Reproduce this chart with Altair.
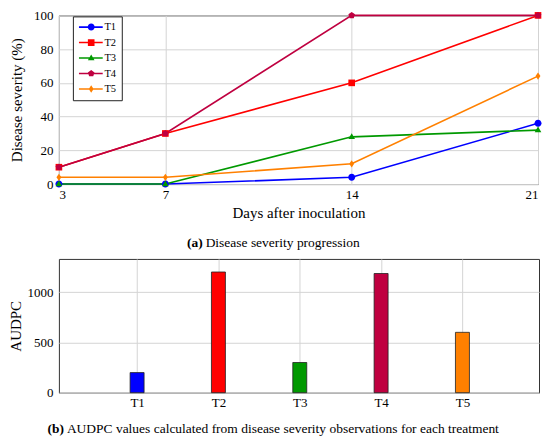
import altair as alt
import pandas as pd

# ---- data ----
days = [3, 7, 14, 21]
series_names = ["T1", "T2", "T3", "T4", "T5"]
sev_t1 = [0, 0, 4, 36]
sev_t2 = [10, 30, 60, 100]
sev_t3 = [0, 0, 28, 32]
sev_t4 = [10, 30, 100, 100]
sev_t5 = [4, 4, 12, 64]
audpc_values = [200, 1200, 300, 1185, 600]
y_ticks_top = [0, 20, 40, 60, 80, 100]
y_ticks_bottom = [0, 500, 1000]

colors = ["#0000ff", "#ff0000", "#009900", "#bf0040", "#ff8000"]

marker_paths = [
    "M1,0A1,1,0,1,1,-1,0A1,1,0,1,1,1,0Z",
    "M-0.95,-0.95H0.95V0.95H-0.95Z",
    "M0,-1.05L0.95,0.65H-0.95Z",
    "M0,-1L0.951,-0.309L0.588,0.809L-0.588,0.809L-0.951,-0.309Z",
    "M0,-1.05L0.7,0L0,1.05L-0.7,0Z",
]
legend_paths = ["M-3.5,-0.22H3.3V0.22H-3.5Z" + p for p in marker_paths]

sev = {"T1": sev_t1, "T2": sev_t2, "T3": sev_t3, "T4": sev_t4, "T5": sev_t5}
rows = []
for s in series_names:
    for d, v in zip(days, sev[s]):
        rows.append({"day": d, "series": s, "value": v})
df_sev = pd.DataFrame(rows)

df_audpc = pd.DataFrame({
    "idx": list(range(1, len(series_names) + 1)),
    "treatment": series_names,
    "audpc": audpc_values,
})

FONT = "Liberation Serif"
GRID = "#d4d4d4"
CAP = 13.5

# ---- top panel ----
W1, H1 = 480, 169

x_top = alt.X(
    "day:Q",
    scale=alt.Scale(domain=[3, 21], nice=False, zero=False),
    axis=alt.Axis(values=days, title="Days after inoculation", grid=True,
                  ticks=False, domain=False, labelPadding=4, titlePadding=4),
)
y_top = alt.Y(
    "value:Q",
    scale=alt.Scale(domain=[0, 100], nice=False),
    axis=alt.Axis(values=y_ticks_top, title="Disease severity (%)", grid=True,
                  ticks=False, domain=False, labelPadding=6, titlePadding=9),
)
color_scale = alt.Scale(domain=series_names, range=colors)

base = alt.Chart(df_sev).encode(x=x_top, y=y_top)

lines = base.mark_line(strokeWidth=1.6).encode(
    color=alt.Color("series:N", scale=color_scale, legend=None)
)
points = base.mark_point(filled=True, size=49, opacity=1).encode(
    color=alt.Color("series:N", scale=color_scale, legend=None),
    shape=alt.Shape("series:N", scale=alt.Scale(domain=series_names, range=marker_paths), legend=None),
)

def leg():
    return alt.Legend(title=None, orient="none", legendX=14, legendY=1,
                      padding=5.5, symbolOffset=7.6, symbolSize=49,
                      labelOffset=8, rowPadding=4.5,
                      labelFont=FONT, labelFontSize=10.5, labelColor="black",
                      strokeColor="#222222", fillColor="white",
                      symbolOpacity=1, symbolStrokeWidth=0)

legend_layer = base.mark_point(filled=True, size=49, opacity=1).encode(
    color=alt.Color("series:N", scale=color_scale, legend=leg()),
    shape=alt.Shape("series:N", scale=alt.Scale(domain=series_names, range=legend_paths),
                    legend=leg()),
).transform_filter("datum.day < 0")

cap_a = pd.DataFrame({"bold": ["(a)"], "rest": ["Disease severity progression"]})
cap_a_bold = alt.Chart(cap_a).mark_text(font=FONT, fontSize=CAP, fontWeight="bold",
                                         align="right", baseline="middle", color="black").encode(
    text="bold:N", x=alt.value(144), y=alt.value(228))
cap_a_rest = alt.Chart(cap_a).mark_text(font=FONT, fontSize=CAP, align="left",
                                         baseline="middle", color="black").encode(
    text="rest:N", x=alt.value(147), y=alt.value(228))

top = alt.layer(lines, points, legend_layer, cap_a_bold, cap_a_rest).resolve_scale(
    color="independent", shape="independent"
).properties(width=W1, height=H1)

# ---- bottom panel ----
W2, H2 = 481, 134
label_expr = "[" + ",".join("'" + s + "'" for s in series_names) + "][datum.value - 1]"

bars = alt.Chart(df_audpc).mark_bar(size=14, stroke="#222222", strokeWidth=0.8).encode(
    x=alt.X("idx:Q", scale=alt.Scale(domain=[0.1, 5.88], nice=False, zero=False),
            axis=alt.Axis(values=list(range(1, len(series_names) + 1)), labelExpr=label_expr,
                          title=None, grid=True, ticks=False, domain=False, labelPadding=4)),
    y=alt.Y("audpc:Q", scale=alt.Scale(domain=[0, 1330], nice=False),
            axis=alt.Axis(values=y_ticks_bottom, format="d", title="AUDPC", grid=True, ticks=False,
                          domain=False, labelPadding=6, titlePadding=3)),
    color=alt.Color("treatment:N", scale=alt.Scale(domain=series_names, range=colors), legend=None),
)

cap_b = pd.DataFrame({"bold": ["(b)"],
                      "rest": ["AUDPC values calculated from disease severity observations for each treatment"]})
cap_b_bold = alt.Chart(cap_b).mark_text(font=FONT, fontSize=CAP, fontWeight="bold",
                                         align="right", baseline="middle", color="black").encode(
    text="bold:N", x=alt.value(5), y=alt.value(170))
cap_b_rest = alt.Chart(cap_b).mark_text(font=FONT, fontSize=CAP, align="left",
                                         baseline="middle", color="black").encode(
    text="rest:N", x=alt.value(8), y=alt.value(170))

bottom = alt.layer(bars, cap_b_bold, cap_b_rest).properties(width=W2, height=H2)

chart = alt.vconcat(top, bottom, spacing=8).properties(
    padding={"top": 0, "left": 0, "right": 0, "bottom": 0},
    background="white",
).configure_view(stroke="#333333", strokeWidth=1).configure_axis(
    labelFont=FONT, labelFontSize=13, labelColor="black",
    titleFont=FONT, titleFontSize=15, titleFontWeight="normal", titleColor="black",
    gridColor=GRID, gridWidth=1,
)

chart.save("out.html", embed_options={"renderer": "svg", "actions": False})
